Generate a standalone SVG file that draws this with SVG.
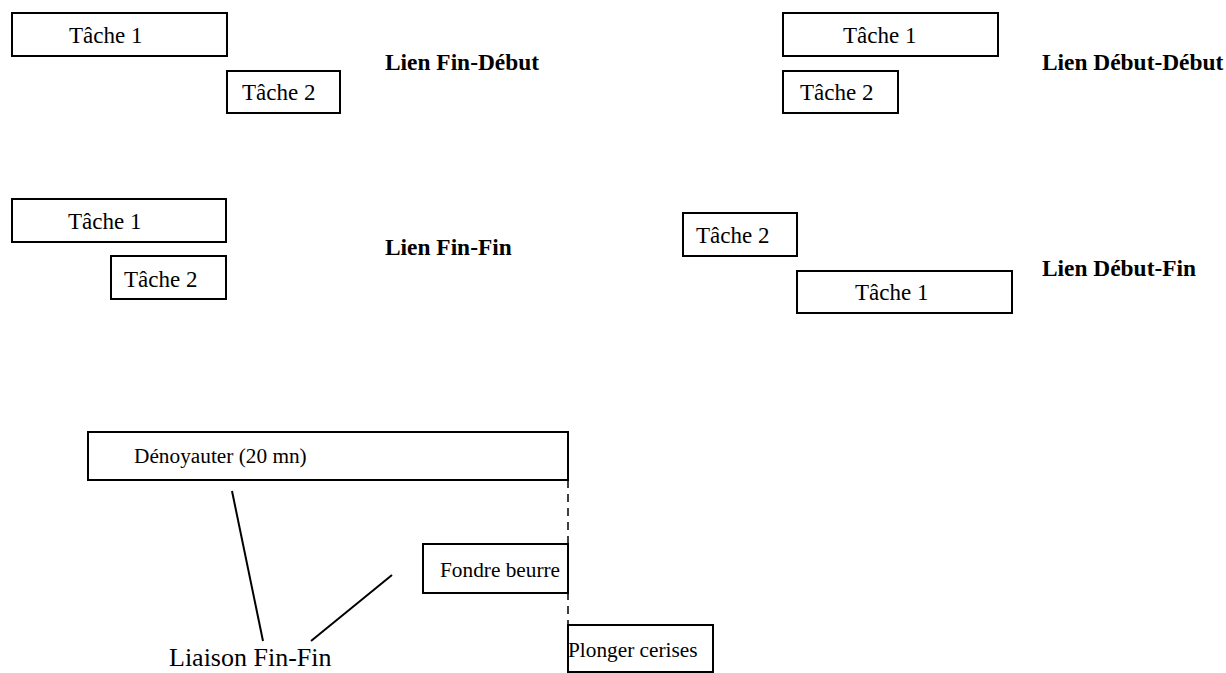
<svg xmlns="http://www.w3.org/2000/svg" width="1226" height="673" viewBox="0 0 1226 673">
<style>
.box{fill:#fff;stroke:#000;stroke-width:2}
.t{font-family:"Liberation Serif","Times New Roman",serif;font-size:23px;fill:#000}
.s{font-family:"Liberation Serif","Times New Roman",serif;font-size:21.3px;fill:#000}
.b{font-family:"Liberation Serif","Times New Roman",serif;font-size:23.4px;font-weight:bold;fill:#000}
.big{font-family:"Liberation Serif","Times New Roman",serif;font-size:26px;fill:#000}
.ln{stroke:#000;stroke-width:2;fill:none}
</style>
<rect width="1226" height="673" fill="#fff"/>
<g id="fd-t1"><rect class="box" x="12" y="13" width="215" height="43"/><text class="t" x="69" y="43">Tâche 1</text></g>
<g id="fd-t2"><rect class="box" x="227" y="71" width="113" height="42"/><text class="t" x="242" y="100">Tâche 2</text></g>
<text class="b" x="385" y="70">Lien Fin-Début</text>
<g id="dd-t1"><rect class="box" x="783" y="13" width="215" height="43"/><text class="t" x="843" y="43">Tâche 1</text></g>
<g id="dd-t2"><rect class="box" x="783" y="71" width="115" height="42"/><text class="t" x="800" y="100">Tâche 2</text></g>
<text class="b" x="1042" y="70">Lien Début-Début</text>
<g id="ff-t1"><rect class="box" x="12" y="199" width="214" height="43"/><text class="t" x="68" y="229">Tâche 1</text></g>
<g id="ff-t2"><rect class="box" x="111" y="256" width="115" height="43"/><text class="t" x="124" y="287">Tâche 2</text></g>
<text class="b" x="385" y="255">Lien Fin-Fin</text>
<g id="df-t2"><rect class="box" x="683" y="213" width="114" height="43"/><text class="t" x="696" y="243">Tâche 2</text></g>
<g id="df-t1"><rect class="box" x="797" y="271" width="215" height="42"/><text class="t" x="855" y="300">Tâche 1</text></g>
<text class="b" x="1042" y="276">Lien Début-Fin</text>
<g id="denoyauter"><rect class="box" x="88" y="432" width="480" height="48"/><text class="s" x="134" y="463">Dénoyauter (20 mn)</text></g>
<g id="fondre"><rect class="box" x="423" y="544" width="145" height="49"/><text class="s" x="440" y="577">Fondre beurre</text></g>
<g id="plonger"><rect class="box" x="568" y="625" width="145" height="47"/><text class="s" x="568" y="657">Plonger cerises</text></g>
<g id="connectors">
<line x1="568" y1="480" x2="568" y2="625" stroke="#000" stroke-width="1.5" stroke-dasharray="8,6"/>
<line class="ln" x1="232" y1="491" x2="263" y2="641"/>
<line class="ln" x1="392" y1="575" x2="311" y2="641"/>
</g>
<text class="big" x="169" y="666">Liaison Fin-Fin</text>
</svg>
